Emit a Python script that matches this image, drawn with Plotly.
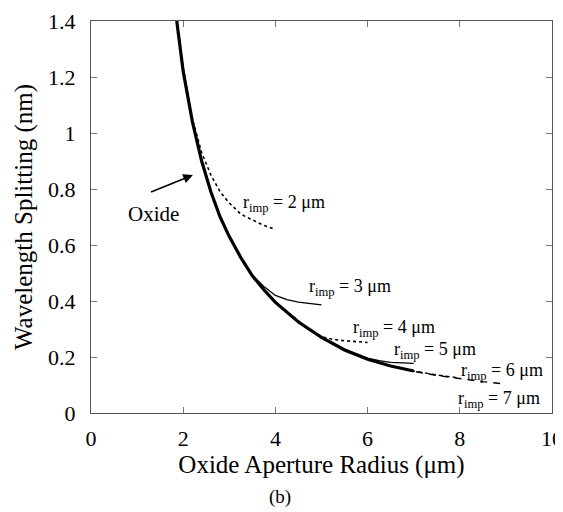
import plotly.graph_objects as go

# Oxide (thick) curve
oxide_x = [1.86, 2.0, 2.2, 2.4, 2.6, 2.8, 3.0, 3.25, 3.5, 3.75, 4.0, 4.5, 5.0, 5.5, 6.0, 6.5, 7.0]
oxide_y = [1.40, 1.22, 1.04, 0.90, 0.79, 0.70, 0.63, 0.555, 0.49, 0.44, 0.395, 0.325, 0.27, 0.225, 0.192, 0.168, 0.150]

# implant radius curves
r2_x = [1.86, 2.0, 2.2, 2.4, 2.6, 2.8, 3.0, 3.25, 3.5, 3.75, 4.0]
r2_y = [1.40, 1.23, 1.05, 0.93, 0.85, 0.79, 0.75, 0.71, 0.69, 0.67, 0.655]

r3_x = [3.0, 3.25, 3.5, 3.75, 4.0, 4.25, 4.5, 4.75, 5.0]
r3_y = [0.632, 0.557, 0.492, 0.452, 0.420, 0.405, 0.396, 0.390, 0.386]

r4_x = [4.0, 4.5, 4.75, 5.0, 5.25, 5.5, 5.75, 6.0]
r4_y = [0.397, 0.327, 0.295, 0.272, 0.263, 0.258, 0.255, 0.252]

r5_x = [5.0, 5.5, 6.0, 6.25, 6.5, 6.75, 7.0]
r5_y = [0.272, 0.228, 0.196, 0.187, 0.181, 0.178, 0.177]

r6_x = [6.5, 7.0, 7.5, 8.0]
r6_y = [0.168, 0.150, 0.136, 0.125]

r7_x = [6.5, 7.0, 7.5, 8.0, 8.5, 8.95]
r7_y = [0.168, 0.149, 0.134, 0.122, 0.112, 0.104]

label_text = ["r<sub>imp</sub> = 2 μm", "r<sub>imp</sub> = 3 μm", "r<sub>imp</sub> = 4 μm",
              "r<sub>imp</sub> = 5 μm", "r<sub>imp</sub> = 6 μm", "r<sub>imp</sub> = 7 μm"]
label_x = [3.25, 4.68, 5.63, 6.53, 7.98, 7.91]
label_y = [0.75, 0.45, 0.303, 0.225, 0.15, 0.05]

x_ticks = [0, 2, 4, 6, 8, 10]
y_ticks = [0, 0.2, 0.4, 0.6, 0.8, 1.0, 1.2, 1.4]
y_tick_text = ["0", "0.2", "0.4", "0.6", "0.8", "1", "1.2", "1.4"]

FONT = "Liberation Serif, Times New Roman, serif"

fig = go.Figure()
thin = dict(color="black", width=1.3)
fig.add_trace(go.Scatter(x=r2_x, y=r2_y, mode="lines", line=dict(color="black", width=1.6, dash="dot")))
fig.add_trace(go.Scatter(x=r3_x, y=r3_y, mode="lines", line=thin))
fig.add_trace(go.Scatter(x=r4_x, y=r4_y, mode="lines", line=dict(color="black", width=1.6, dash="dot")))
fig.add_trace(go.Scatter(x=r5_x, y=r5_y, mode="lines", line=thin))
fig.add_trace(go.Scatter(x=r6_x, y=r6_y, mode="lines", line=dict(color="black", width=1.4, dash="4px,3px")))
fig.add_trace(go.Scatter(x=r7_x, y=r7_y, mode="lines", line=dict(color="black", width=1.4, dash="7px,6px")))
fig.add_trace(go.Scatter(x=oxide_x, y=oxide_y, mode="lines", line=dict(color="black", width=3.2)))

annotations = []
for t, x, y in zip(label_text, label_x, label_y):
    annotations.append(dict(x=x, y=y, xref="x", yref="y", text=t, showarrow=False,
                            xanchor="left", yanchor="middle", font=dict(family=FONT, size=18, color="black")))
annotations.append(dict(x=1.35, y=0.71, xref="x", yref="y", text="Oxide", showarrow=False,
                        xanchor="center", yanchor="middle", font=dict(family=FONT, size=21, color="black")))
annotations.append(dict(x=2.21, y=0.85, xref="x", yref="y", ax=1.27, ay=0.787, axref="x", ayref="y",
                        text="", showarrow=True, arrowhead=2, arrowsize=1.2, arrowwidth=1.6, arrowcolor="black"))
annotations.append(dict(x=0.409, y=-0.214, xref="paper", yref="paper", text="(b)", showarrow=False,
                        xanchor="center", yanchor="middle", font=dict(family=FONT, size=19, color="black")))

axis_common = dict(showgrid=False, zeroline=False, showline=True, linecolor="#555", linewidth=1,
                   mirror="ticks", ticks="inside", ticklen=6, tickcolor="#777", tickwidth=1,
                   automargin=False,
                   tickfont=dict(family=FONT, size=22, color="black"))

# page body has an 8px margin, so the figure is sized/offset to land on the reference frame
fig.update_layout(
    width=555, height=504,
    margin=dict(l=83, r=11, t=13, b=99),
    plot_bgcolor="white", paper_bgcolor="white",
    showlegend=False,
    annotations=annotations,
    xaxis=dict(range=[0, 10], tickvals=x_ticks, ticktext=[str(v) for v in x_ticks],
               title=dict(text="Oxide Aperture Radius (μm)", font=dict(family=FONT, size=25, color="black"), standoff=2),
               ticklabelstandoff=6, **axis_common),
    yaxis=dict(range=[0, 1.4], tickvals=y_ticks, ticktext=y_tick_text,
               title=dict(text="Wavelength Splitting (nm)", font=dict(family=FONT, size=25, color="black"), standoff=8),
               ticklabelstandoff=10, **axis_common),
)

fig.write_html("out.html")
